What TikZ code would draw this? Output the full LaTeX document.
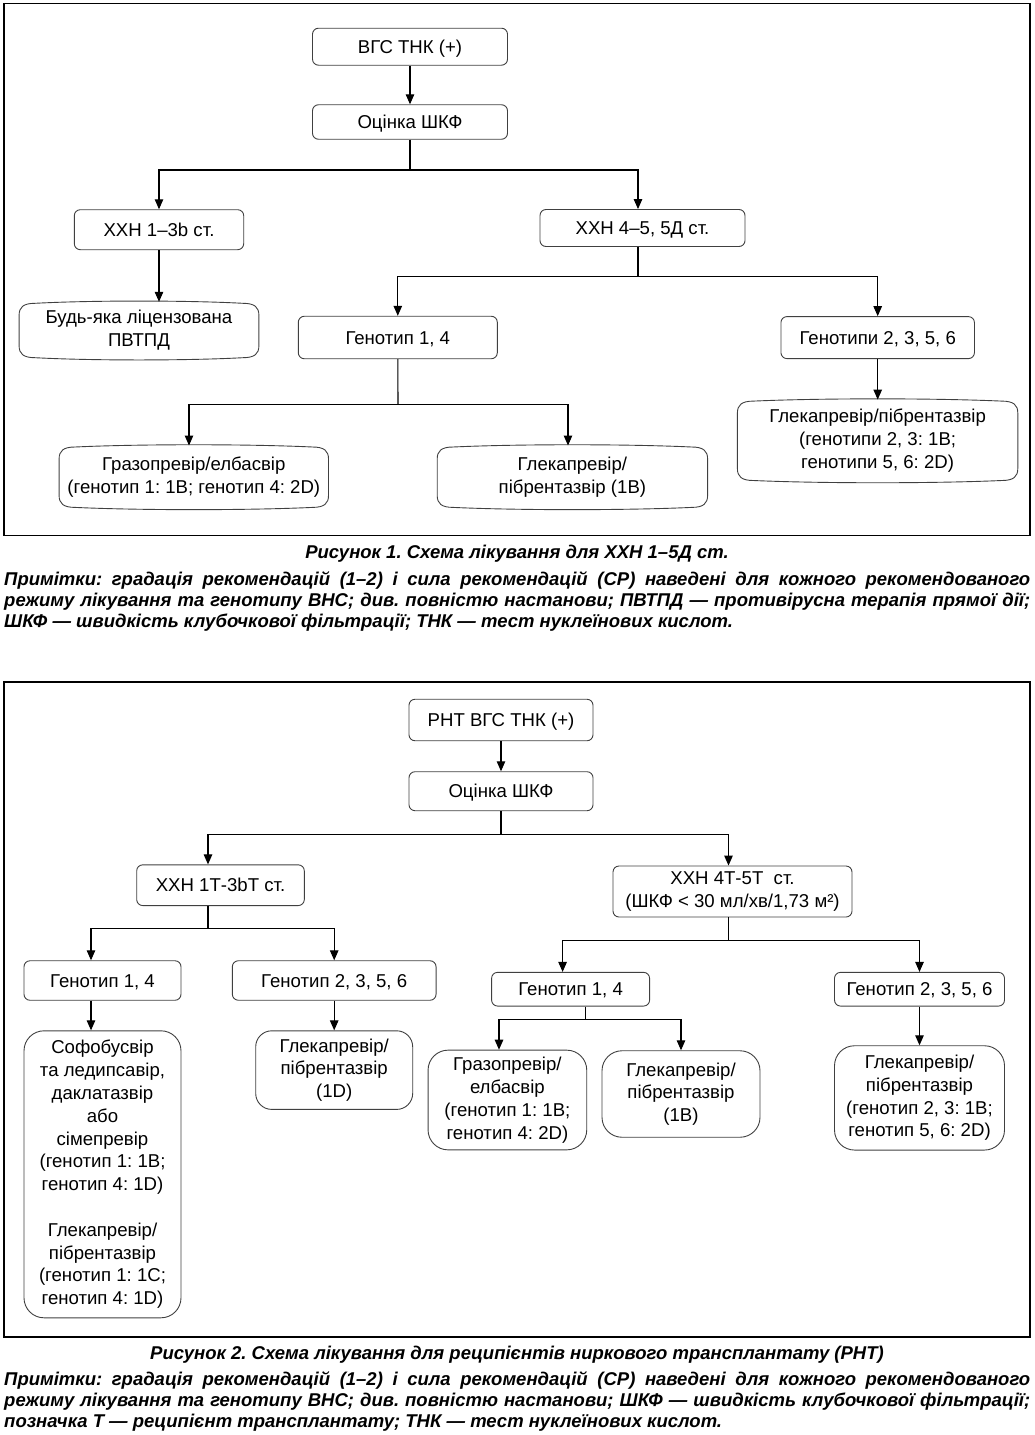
\documentclass[tikz,border=0pt]{standalone}
\usepackage{fontspec}
\setmainfont{Liberation Sans}
\usetikzlibrary{arrows.meta,calc}
\definecolor{boxc}{gray}{0.25}
\newcommand\boxfont{\fontsize{18.6}{22.8}\selectfont\frenchspacing}
\newcommand\capfont{\fontsize{18.5}{21}\selectfont\bfseries\itshape\frenchspacing}
\tikzset{
  boxst/.style={draw=boxc, line width=0.9pt, rounded corners=6pt, align=center, inner sep=0pt, font=\boxfont},
  oneline/.style={text height=13pt, text depth=0pt},
  bigboxst/.style={boxst, rounded corners=16pt},
  plainst/.style={align=center, inner sep=0pt, font=\boxfont},
  conn/.style={line width=1.1pt, draw=black},
  arr/.style={conn, -{Triangle[length=10pt,width=8.5pt]}},
  outerframe/.style={line width=1.3pt, draw=black},
  capst/.style={anchor=base, inner sep=0pt, font=\capfont},
  notest/.style={anchor=base west, inner sep=0pt, font=\capfont},
}
\newcommand\bulgeframe[1]{%
  \draw[draw=boxc, line width=0.9pt]
    ([yshift=-12pt]#1.north west)
    .. controls ([yshift=-4pt]#1.north west) and ([xshift=4pt]#1.north west) .. ([xshift=16pt]#1.north west)
    .. controls ($(#1.north west)!0.3!(#1.north east)+(0,-3)$) and ($(#1.north west)!0.7!(#1.north east)+(0,-3)$) .. ([xshift=-16pt]#1.north east)
    .. controls ([xshift=-4pt]#1.north east) and ([yshift=-4pt]#1.north east) .. ([yshift=-12pt]#1.north east)
    -- ([yshift=12pt]#1.south east)
    .. controls ([yshift=4pt]#1.south east) and ([xshift=-4pt]#1.south east) .. ([xshift=-16pt]#1.south east)
    .. controls ($(#1.south east)!0.3!(#1.south west)+(0,3)$) and ($(#1.south east)!0.7!(#1.south west)+(0,3)$) .. ([xshift=16pt]#1.south west)
    .. controls ([xshift=4pt]#1.south west) and ([yshift=4pt]#1.south west) .. ([yshift=12pt]#1.south west)
    -- cycle;}
\begin{document}
\begin{tikzpicture}[x=1pt,y=-1pt]
\useasboundingbox (0,0) rectangle (1034,1435);
% ---------------- Figure 1 ----------------
\draw[outerframe] (4,3.5) rectangle (1030,535.5);
\node[boxst, oneline, minimum width=195pt, minimum height=37pt] (f1a) at (410,46.7) {ВГС ТНК (+)};
\node[boxst, oneline, minimum width=195pt, minimum height=34.5pt] (f1b) at (410,122) {Оцінка ШКФ};
\node[boxst, oneline, minimum width=169.4pt, minimum height=40pt] (f1c) at (159,229.7) {ХХН 1–3b ст.};
\node[boxst, oneline, minimum width=205pt, minimum height=37pt] (f1d) at (642.5,228) {ХХН 4–5, 5Д ст.};
\node[plainst, minimum width=239.4pt, minimum height=54pt] (f1e) at (139,330.5) {Будь-яка ліцензована\\ПВТПД};
\bulgeframe{f1e}
\node[boxst, oneline, minimum width=199pt, minimum height=42.5pt] (f1f) at (397.8,337.5) {Генотип 1, 4};
\node[boxst, oneline, minimum width=193.5pt, minimum height=42pt] (f1g) at (877.7,337.6) {Генотипи 2, 3, 5, 6};
\node[plainst, minimum width=269pt, minimum height=60pt] (f1h) at (193.8,477.2) {Гразопревір/елбасвір\\(генотип 1: 1B; генотип 4: 2D)};
\bulgeframe{f1h}
\node[plainst, minimum width=270pt, minimum height=60pt] (f1i) at (572.4,477.2) {Глекапревір/\\пібрентазвір (1B)};
\bulgeframe{f1i}
\node[plainst, minimum width=280pt, minimum height=79pt] (f1j) at (877.6,440.8) {Глекапревір/пібрентазвір\\(генотипи 2, 3: 1B;\\генотипи 5, 6: 2D)};
\bulgeframe{f1j}
% connectors
\draw[arr] (f1a.south) -- (f1b.north);
\coordinate (j1) at (410,170);
\draw[conn] (f1b.south) -- (j1);
\draw[arr] (j1) -| (f1c.north);
\draw[arr] (j1) -| ([xshift=-4.5pt]f1d.north);
\draw[arr] (f1c.south) -- ([xshift=20pt,yshift=1.5pt]f1e.north);
\coordinate (j2) at (638,276.4);
\draw[conn] ([xshift=-4.5pt]f1d.south) -- (j2);
\draw[arr] (j2) -| (f1f.north);
\draw[arr] (j2) -| (f1g.north);
\draw[arr] (f1g.south) -- ([yshift=1.5pt]f1g.south |- f1j.north);
\coordinate (j3) at (398,404.3);
\draw[conn] (f1f.south) -- (j3);
\draw[arr] (j3) -| ([xshift=-4.8pt,yshift=1.5pt]f1h.north);
\draw[arr] (j3) -| ([xshift=-4.4pt,yshift=1.5pt]f1i.north);
% caption 1
\node[capst] (cap1) at (517,558) {Рисунок 1. Схема лікування для ХХН 1–5Д ст.};
\node[notest] (n1a) at (4,585.5) {\makebox[1026pt][s]{Примітки: градація рекомендацій (1–2) і сила рекомендацій (СР) наведені для кожного рекомендованого}};
\node[notest] (n1b) at (4,606.5) {\makebox[1026pt][s]{режиму лікування та генотипу ВНС; див. повністю настанови; ПВТПД — противірусна терапія прямої дії;}};
\node[notest] (n1c) at (4,627.5) {ШКФ — швидкість клубочкової фільтрації; ТНК — тест нуклеїнових кислот.};
% ---------------- Figure 2 ----------------
\draw[outerframe] (4,682) rectangle (1030,1337);
\node[boxst, oneline, minimum width=184pt, minimum height=41.5pt] (f2a) at (501,720) {РНТ ВГС ТНК (+)};
\node[boxst, oneline, minimum width=184pt, minimum height=39pt] (f2b) at (501,791.2) {Оцінка ШКФ};
\node[boxst, oneline, minimum width=167.6pt, minimum height=40.7pt] (f2c) at (220.5,885.2) {ХХН 1Т-3bТ ст.};
\node[boxst, minimum width=239pt, minimum height=51pt] (f2d) at (732.5,891.5) {ХХН 4Т-5Т\ \ ст.\\(ШКФ < 30 мл/хв/1,73 м²)};
\node[boxst, oneline, minimum width=157pt, minimum height=39.5pt] (f2e) at (102.5,980.5) {Генотип 1, 4};
\node[boxst, oneline, minimum width=203.7pt, minimum height=39.5pt] (f2f) at (334.2,980.5) {Генотип 2, 3, 5, 6};
\node[bigboxst, rounded corners=20pt, minimum width=157pt, minimum height=287pt] (f2g) at (102.5,1174.3) {Софобусвір\\та ледипсавір,\\даклатазвір\\або\\сімепревір\\(генотип 1: 1B;\\генотип 4: 1D)\\[22.8pt]Глекапревір/\\пібрентазвір\\(генотип 1: 1C;\\генотип 4: 1D)};
\node[bigboxst, minimum width=157pt, minimum height=78.6pt] (f2h) at (334.2,1070.1) {Глекапревір/\\пібрентазвір\\(1D)};
\node[boxst, oneline, minimum width=158pt, minimum height=33.7pt] (f2i) at (570.6,989.2) {Генотип 1, 4};
\node[boxst, oneline, minimum width=170pt, minimum height=33.7pt] (f2j) at (919.5,989.2) {Генотип 2, 3, 5, 6};
\node[bigboxst, rounded corners=20pt, minimum width=158.7pt, minimum height=99.7pt] (f2k) at (507.4,1100) {Гразопревір/\\елбасвір\\(генотип 1: 1B;\\генотип 4: 2D)};
\node[bigboxst, rounded corners=20pt, minimum width=158pt, minimum height=86.5pt] (f2l) at (681,1094) {Глекапревір/\\пібрентазвір\\(1B)};
\node[bigboxst, rounded corners=20pt, minimum width=170pt, minimum height=104.3pt] (f2m) at (919.5,1097.9) {Глекапревір/\\пібрентазвір\\(генотип 2, 3: 1B;\\генотип 5, 6: 2D)};
% connectors
\draw[arr] (f2a.south) -- (f2b.north);
\coordinate (k1) at (501,834.3);
\draw[conn] (f2b.south) -- (k1);
\draw[arr] (k1) -| ([xshift=-12.5pt]f2c.north);
\draw[arr] (k1) -| ([xshift=-4pt]f2d.north);
\coordinate (k2) at (208,928.7);
\draw[conn] ([xshift=-12.5pt]f2c.south) -- (k2);
\draw[arr] (k2) -| ([xshift=-11.5pt]f2e.north);
\draw[arr] (k2) -| (f2f.north);
\draw[arr] ([xshift=-11.5pt]f2e.south) -- ([xshift=-11.5pt]f2g.north);
\draw[arr] (f2f.south) -- (f2h.north);
\coordinate (k3) at (728.5,940.7);
\draw[conn] ([xshift=-4pt]f2d.south) -- (k3);
\draw[arr] (k3) -| ([xshift=-8pt]f2i.north);
\draw[arr] (k3) -| (f2j.north);
\coordinate (k4) at (585.6,1019.3);
\draw[conn] ([xshift=15pt]f2i.south) -- (k4);
\draw[arr] (k4) -| ([xshift=-8.4pt]f2k.north);
\draw[arr] (k4) -| (f2l.north);
\draw[arr] (f2j.south) -- (f2m.north);
% caption 2
\node[capst] (cap2) at (517,1359) {Рисунок 2. Схема лікування для реципієнтів ниркового трансплантату (РНТ)};
\node[notest] (n2a) at (4,1385.5) {\makebox[1026pt][s]{Примітки: градація рекомендацій (1–2) і сила рекомендацій (СР) наведені для кожного рекомендованого}};
\node[notest] (n2b) at (4,1406.5) {\makebox[1026pt][s]{режиму лікування та генотипу ВНС; див. повністю настанови; ШКФ — швидкість клубочкової фільтрації;}};
\node[notest] (n2c) at (4,1427.5) {позначка Т — реципієнт трансплантату; ТНК — тест нуклеїнових кислот.};
\end{tikzpicture}
\end{document}
